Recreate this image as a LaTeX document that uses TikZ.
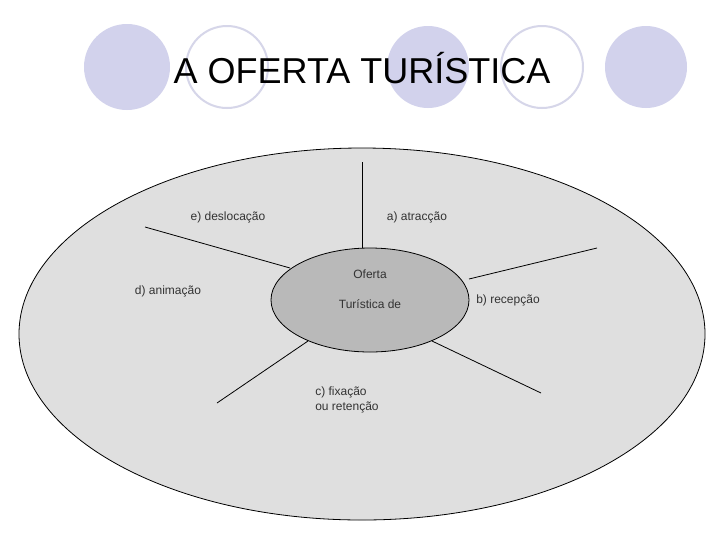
\documentclass[tikz,border=0pt]{standalone}
\usepackage{fontspec}
\usetikzlibrary{shapes.geometric}
\setmainfont{Liberation Sans}
\begin{document}
\begin{tikzpicture}[x=0.75pt,y=-0.75pt,
  lbl/.style={font=\fontsize{9}{11}\selectfont, text=black!80},
  spoke/.style={draw=black, line width=0.6pt}]
\useasboundingbox (0,0) rectangle (720,540);
\fill[white] (0,0) rectangle (720,540);
\fill[blue!40!gray!25] (127,67) circle (43);
\draw[blue!30!gray!25, line width=1.5pt] (227,67) circle (41);
\fill[blue!40!gray!25] (428,67) circle (41);
\draw[blue!30!gray!25, line width=1.5pt] (542,67) circle (41);
\fill[blue!40!gray!25] (646,67) circle (41);
\node (title) at (362,68) {\fontsize{27}{30}\selectfont A OFERTA TURÍSTICA};
\draw[fill=gray!25, line width=0.6pt] (362,334) ellipse [x radius=343, y radius=186];
\node[draw, fill=gray!55, line width=0.6pt, ellipse, minimum width=148.5pt, minimum height=78pt, inner sep=0pt] (core) at (370,300) {};
\coordinate (pa) at (362,162);
\coordinate (pb) at (597,248);
\coordinate (pc) at (541,393);
\coordinate (pd) at (217,403);
\coordinate (pe) at (145,227);
\draw[spoke] (pa) -- (core.north -| pa);
\draw[spoke] (pb) -- (469,279);
\draw[spoke] (pc) -- (432,341);
\draw[spoke] (pd) -- (308,341);
\draw[spoke] (pe) -- (290,268);
\node[lbl] (o1) at (370,274) {Oferta};
\node[lbl] (o2) at (370,304) {Turística de};
\node[lbl] (la) at (417,217) {a) atracção};
\node[lbl] (le) at (228,217) {e) deslocação};
\node[lbl] (ld) at (168,291) {d) animação};
\node[lbl] (lb) at (508,300) {b) recepção};
\node[lbl, align=left, anchor=west, inner sep=0pt] (lc) at (315,400) {c) fixação\\ou retenção};
\end{tikzpicture}
\end{document}
